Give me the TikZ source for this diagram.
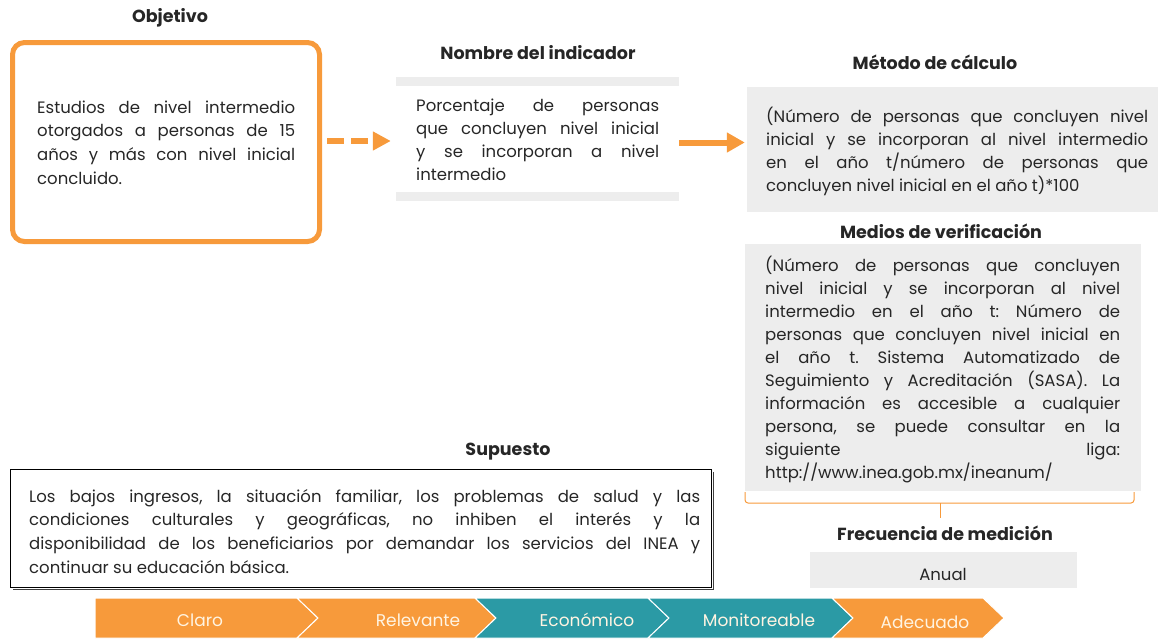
\documentclass[tikz,border=0pt]{standalone}
\usepackage{fontspec}
\setmainfont{Poppins}
\usetikzlibrary{arrows.meta}
\definecolor{orng}{HTML}{F79A3B}
\definecolor{tealc}{HTML}{2B9AA5}
\definecolor{gbox}{HTML}{EDEDED}
\definecolor{txt}{HTML}{262626}
\definecolor{chtxt}{HTML}{FFF4E2}
\tolerance=10000
\hyphenpenalty=10000
\exhyphenpenalty=10000
\frenchspacing
\begin{document}
\begin{tikzpicture}[x=1pt,y=-1pt,
  head/.style={font=\fontsize{17.5}{20}\selectfont\bfseries, text=txt, inner sep=0},
  body/.style={font=\fontsize{16.5}{23}\selectfont\frenchspacing, text=txt, inner sep=0, align=justify, anchor=base west},
  graybox/.style={fill=gbox, draw=none, inner sep=0},
  chev/.style={draw=white, line width=1pt},
  chlabel/.style={font=\fontsize{17}{20}\selectfont, text=chtxt, inner sep=0},
  brace/.style={draw=orng, line width=1pt},
]
\useasboundingbox (0,0) rectangle (1158,638);

% --- Objetivo
\node[head] (hobj) at (170,18) {Objetivo};
\node[draw=orng, line width=5pt, rounded corners=12pt, minimum width=307pt, minimum height=199pt, inner sep=0] (obj) at (166,142) {};
\node[body, text width=258pt, font=\fontsize{16.5}{23.7}\selectfont\frenchspacing] (objt) at (37,113)
 {Estudios de nivel intermedio\linebreak otorgados a personas de 15\linebreak años y más con nivel inicial\linebreak concluido.};

% --- Nombre del indicador
\node[head] (hnom) at (538,53) {Nombre del indicador};
\node[minimum width=283pt, minimum height=124pt, inner sep=0] (nom) at (537.5,139) {};
\fill[gbox] (nom.north west) rectangle ([yshift=-9pt]nom.north east);
\fill[gbox] ([yshift=9pt]nom.south west) rectangle (nom.south east);
\node[body, text width=243pt] (nomt) at (416,111.5)
 {Porcentaje de personas\linebreak que concluyen nivel inicial\linebreak y se incorporan a nivel\linebreak intermedio};

% --- Método de cálculo
\node[head] (hmet) at (935,62) {Método de cálculo};
\node[graybox, minimum width=411pt, minimum height=125pt] (met) at (952.5,149.2) {};
\node[body, text width=382pt] (mett) at (766,122)
 {(Número de personas que concluyen nivel\linebreak inicial y se incorporan al nivel intermedio\linebreak en el año t/número de personas que\linebreak concluyen nivel inicial en el año t)*100};

% --- Medios de verificación
\node[head] (hmed) at (941,231) {Medios de verificación};
\node[graybox, minimum width=396pt, minimum height=246.7pt] (med) at (943,367.3) {};
\node[body, text width=355pt] (medt) at (765,271)
 {(Número de personas que concluyen\linebreak nivel inicial y se incorporan al nivel\linebreak intermedio en el año t: Número de\linebreak personas que concluyen nivel inicial en\linebreak el año t. Sistema Automatizado de\linebreak Seguimiento y Acreditación (SASA). La\linebreak información es accesible a cualquier\linebreak persona, se puede consultar en la\linebreak siguiente liga:\linebreak http://www.inea.gob.mx/ineanum/};

% brace
\coordinate (bl) at (745,492);
\coordinate (br) at (1134,492);
\coordinate (bm) at (940,503);
\coordinate (bt) at (940,518);
\draw[brace, rounded corners=3pt] (bl) -- (bl |- bm) -- (br |- bm) -- (br);
\draw[brace] (bm) -- (bt);

% --- Frecuencia
\node[head] (hfre) at (945,533) {Frecuencia de medición};
\node[graybox, minimum width=267pt, minimum height=36pt] (fre) at (943.5,570) {};
\node[body, anchor=base, align=center] (fret) at (943,580) {Anual};

% --- Supuesto
\node[head] (hsup) at (508,452) {Supuesto};
\node[draw=black, line width=1.4pt, minimum width=701pt, minimum height=118pt, inner sep=0] (sup) at (361,528.5) {};
\draw[black!75, line width=1.3pt] ([xshift=1.6pt,yshift=-3pt]sup.north east) -- ([xshift=1.6pt,yshift=-1.4pt]sup.south east) -- ([xshift=3pt,yshift=-1.4pt]sup.south west);
\node[body, text width=671pt, font=\fontsize{16.5}{23.7}\selectfont\frenchspacing] (supt) at (29,502)
 {Los bajos ingresos, la situación familiar, los problemas de salud y las\linebreak condiciones culturales y geográficas, no inhiben el interés y la\linebreak disponibilidad de los beneficiarios por demandar los servicios del INEA y\linebreak continuar su educación básica.};

% --- arrows
\draw[orng, line width=5.5pt, dash pattern=on 17pt off 7pt, shorten <=5pt, shorten >=5pt,
      -{Triangle[length=18pt,width=18pt]}] ([yshift=1pt]obj.east) -- ([yshift=1pt]obj.east -| nom.west);
\draw[orng, line width=6pt, shorten >=2pt, -{Triangle[length=18pt,width=19pt]}]
  ([yshift=-3.5pt]nom.east) -- ([yshift=-3.5pt]nom.east -| met.west);

% --- chevrons
\fill[orng, chev] (95,598) -- (297,598) -- (318,618) -- (297,638) -- (95,638) -- cycle;
\fill[orng, chev] (297,598) -- (475,598) -- (496,618) -- (475,638) -- (297,638) -- (318,618) -- cycle;
\fill[tealc, chev] (475,598) -- (648,598) -- (669,618) -- (648,638) -- (475,638) -- (496,618) -- cycle;
\fill[tealc, chev] (648,598) -- (832,598) -- (853,618) -- (832,638) -- (648,638) -- (669,618) -- cycle;
\fill[orng, chev] (832,598) -- (983,598) -- (1004,618) -- (983,638) -- (832,638) -- (853,618) -- cycle;
\node[chlabel] (c1) at (200,620) {Claro};
\node[chlabel] (c2) at (418,620) {Relevante};
\node[chlabel] (c3) at (587,620) {Económico};
\node[chlabel] (c4) at (759,620) {Monitoreable};
\node[chlabel] (c5) at (925,622) {Adecuado};
\end{tikzpicture}
\end{document}
